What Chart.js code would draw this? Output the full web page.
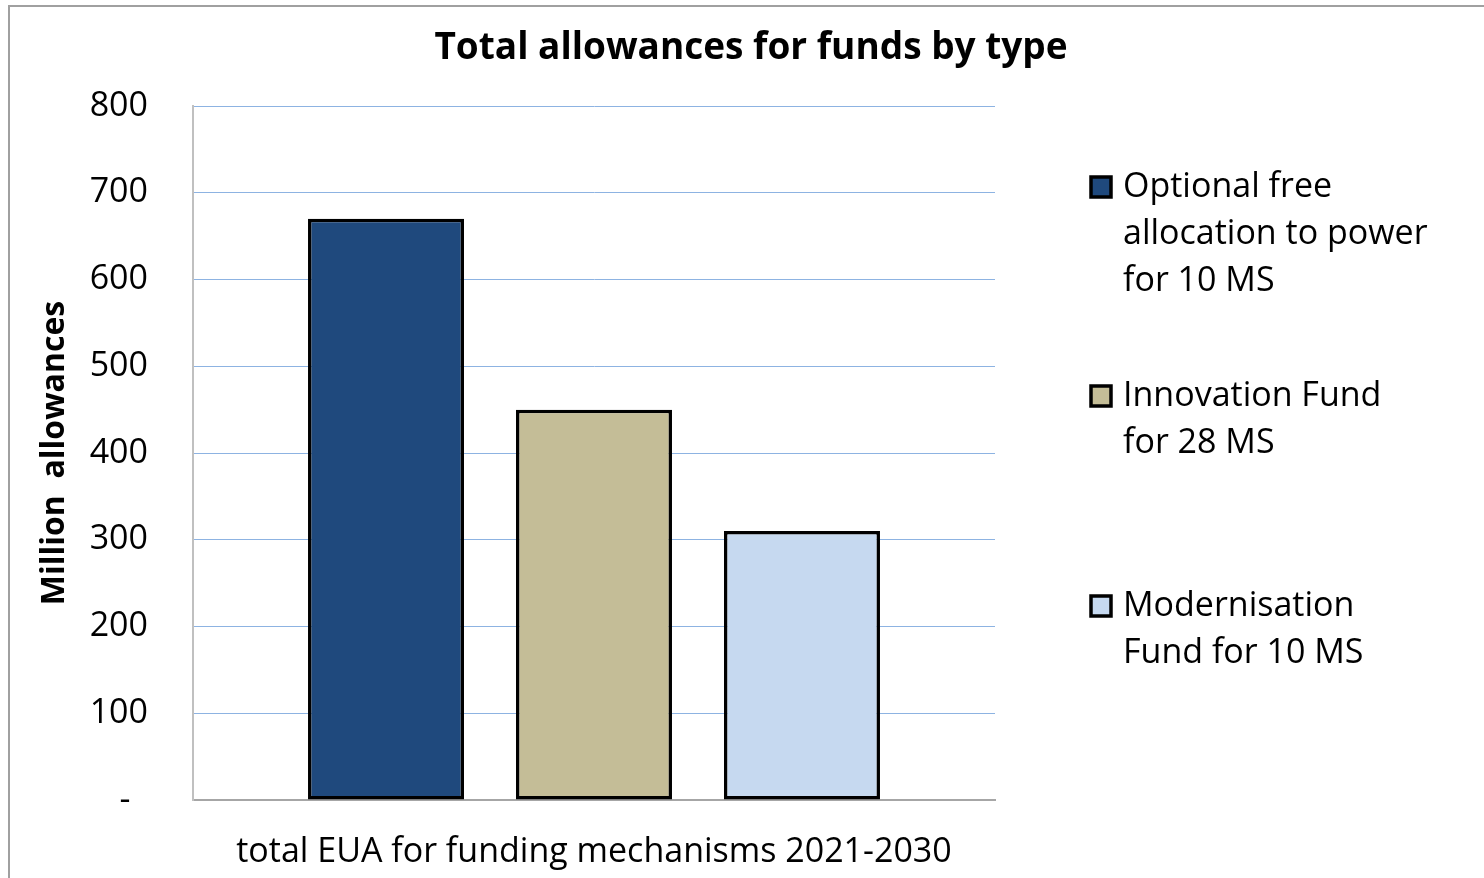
<!DOCTYPE html>
<html>
<head>
<meta charset="utf-8">
<script src="https://cdn.jsdelivr.net/npm/chart.js@4/dist/chart.umd.min.js"></script>
<style>
  html, body { margin: 0; padding: 0; background: #fff; }
  #wrap { position: relative; width: 1484px; height: 878px; overflow: hidden; }
  #frame { position: absolute; left: 8px; top: 5px; width: 2000px; height: 2000px;
           border-left: 2px solid #a0a0a0; border-top: 2px solid #a0a0a0; pointer-events: none; }
  canvas { position: absolute; left: 0; top: 0; }
</style>
</head>
<body>
<div id="wrap">
  <div id="frame"></div>
  <canvas id="c" width="1484" height="878"></canvas>
</div>
<script>
const titleText = 'Total allowances for funds by type';
const yAxisTitle = 'Million  allowances';
const categories = ['total EUA for funding mechanisms 2021-2030'];
const seriesLabels = [
  ['Optional free', 'allocation to power', 'for 10 MS'],
  ['Innovation Fund', 'for 28 MS'],
  ['Modernisation', 'Fund for 10 MS']
];
const optionalFreeAllocation = [670];
const innovationFund = [450];
const modernisationFund = [310];
const seriesColors = ['#1F497D', '#C4BD97', '#C6D9F0'];
const yTicks = [0, 100, 200, 300, 400, 500, 600, 700, 800];

const FONT = '"Open Sans", Carlito, Calibri, sans-serif';

const decorPlugin = {
  id: 'decor',
  afterDraw(chart) {
    const ctx = chart.ctx;
    ctx.save();
    // title
    ctx.font = 'bold 37px ' + FONT;
    ctx.fillStyle = '#000';
    ctx.textAlign = 'center';
    ctx.textBaseline = 'middle';
    ctx.fillText(titleText, 751, 48);
    // legend
    const starts = [187, 396, 606];
    ctx.font = '34px ' + FONT;
    ctx.textAlign = 'left';
    chart.data.datasets.forEach((ds, i) => {
      const y0 = starts[i];
      ctx.fillStyle = ds.backgroundColor;
      ctx.fillRect(1091, y0 - 10, 20, 20);
      ctx.lineWidth = 3.5;
      ctx.strokeStyle = '#000';
      ctx.strokeRect(1091, y0 - 10, 20, 20);
      ctx.fillStyle = '#000';
      ds.legendLines.forEach((line, j) => {
        ctx.fillText(line, 1123, y0 + j * 47);
      });
    });
    ctx.restore();
  }
};

const data = {
  labels: categories,
  datasets: [
    { label: seriesLabels[0].join(' '), legendLines: seriesLabels[0], data: optionalFreeAllocation },
    { label: seriesLabels[1].join(' '), legendLines: seriesLabels[1], data: innovationFund },
    { label: seriesLabels[2].join(' '), legendLines: seriesLabels[2], data: modernisationFund }
  ].map((d, i) => Object.assign(d, {
    backgroundColor: seriesColors[i],
    borderColor: '#000',
    borderWidth: 3.5,
    borderSkipped: false,
    categoryPercentage: 0.778,
    barPercentage: 0.75
  }))
};

new Chart(document.getElementById('c'), {
  type: 'bar',
  data,
  plugins: [decorPlugin],
  options: {
    responsive: false,
    animation: false,
    layout: { padding: { left: 0, right: 489, top: 106, bottom: 0 } },
    plugins: {
      legend: { display: false },
      tooltip: { enabled: false },
      title: { display: false }
    },
    scales: {
      x: {
        grid: { display: false, drawTicks: false },
        border: { display: true, color: '#a6a6a6', width: 2 },
        ticks: { color: '#000', font: { family: FONT, size: 34 }, padding: 32, maxRotation: 0 },
        afterFit(scale) { scale.height = 78; }
      },
      y: {
        min: 0,
        max: 800,
        afterBuildTicks(scale) { scale.ticks = yTicks.map(v => ({ value: v })); },
        grid: {
          drawTicks: false,
          color: ctx => (ctx.tick && ctx.tick.value === 0) ? 'rgba(0,0,0,0)' : '#8DB3E2',
          lineWidth: 1
        },
        border: { display: true, color: '#c0c0c0', width: 2 },
        ticks: {
          color: '#000',
          font: { family: FONT, size: 34 },
          padding: 45,
          callback: v => v === 0 ? '-  ' : String(v)
        },
        title: {
          display: true,
          text: yAxisTitle,
          color: '#000',
          font: { family: FONT, size: 32, weight: 'bold', lineHeight: 1.2 },
          padding: { top: 36, bottom: 0 }
        },
        afterFit(scale) { scale.width = 193; }
      }
    }
  }
});
</script>
</body>
</html>
